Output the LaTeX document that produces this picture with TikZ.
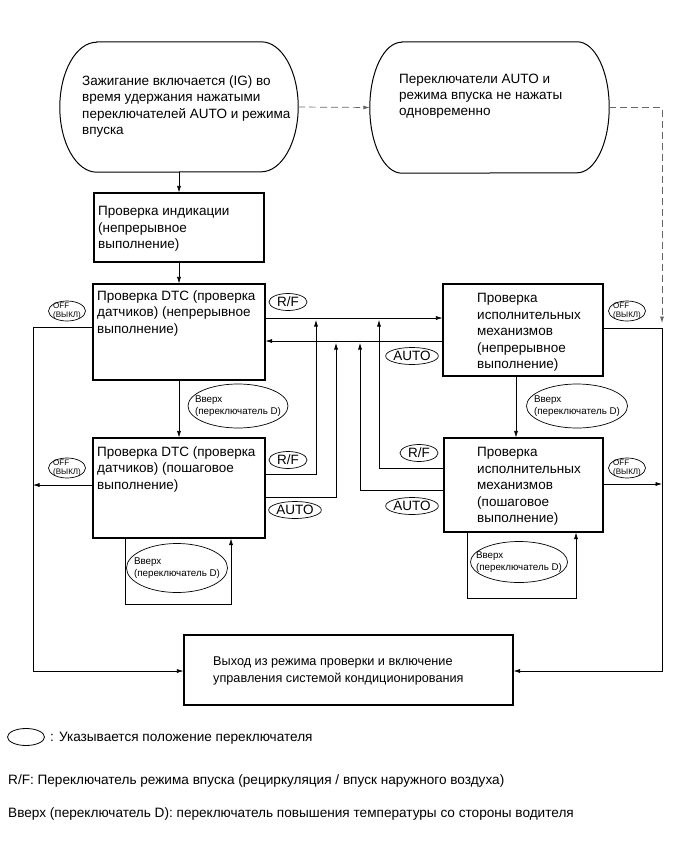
\documentclass[tikz,border=0pt]{standalone}
\usepackage{fontspec}
\setmainfont{Liberation Sans}
\usetikzlibrary{shapes.geometric,arrows.meta}
\newcommand\fsz[2]{\fontsize{#1}{#2}\selectfont}
\begin{document}
\begin{tikzpicture}[x=1pt,y=-1pt,
  boxn/.style={draw, line width=1.1pt, inner sep=0pt},
  txt/.style={inner sep=0pt, anchor=north west, align=left, font=\fsz{13.5}{16.4}},
  conn/.style={line width=0.6pt},
  arr/.style={conn, -{Latex[length=6.5pt,width=4pt]}},
  dsh/.style={line width=0.7pt, draw=black!60, dash pattern=on 7pt off 4pt, -{Latex[length=6.5pt,width=4pt]}},
  term/.style={line width=1pt},
  sw/.style={ellipse, draw, line width=0.7pt, inner sep=0pt, minimum height=17pt, font=\fsz{13.5}{15}},
  off/.style={ellipse, draw, line width=0.7pt, inner sep=0pt, minimum width=37pt, minimum height=20pt},
  offt/.style={inner sep=0pt, align=left, font=\fsz{8}{9}},
  up/.style={ellipse, draw, line width=0.7pt, inner sep=0pt},
  upt/.style={inner sep=0pt, align=left, font=\fsz{9.8}{12.5}},
  leg/.style={inner sep=0pt, anchor=base west, font=\fsz{13.6}{15}}
]
\useasboundingbox (0,0) rectangle (692,856);

% terminators
\node[minimum width=238pt, minimum height=130pt, inner sep=0pt] (t1) at (179,107) {};
\draw[term] ([xshift=37pt]t1.north west) -- ([xshift=-37pt]t1.north east)
  arc[start angle=90, end angle=-90, x radius=37pt, y radius=65pt]
  -- ([xshift=37pt]t1.south west)
  arc[start angle=270, end angle=90, x radius=37pt, y radius=65pt] -- cycle;
\node[txt] (t1t) at (82,75.4) {Зажигание включается (IG) во\\время удержания нажатыми\\переключателей AUTO и режима\\впуска};

\node[minimum width=239pt, minimum height=131pt, inner sep=0pt] (t2) at (489.5,107.5) {};
\draw[term] ([xshift=32pt]t2.north west) -- ([xshift=-32pt]t2.north east)
  arc[start angle=90, end angle=-90, x radius=32pt, y radius=65.5pt]
  -- ([xshift=32pt]t2.south west)
  arc[start angle=270, end angle=90, x radius=32pt, y radius=65.5pt] -- cycle;
\node[txt] (t2t) at (399,73.4) {Переключатели AUTO и\\режима впуска не нажаты\\одновременно};

% boxes
\node[boxn, minimum width=170pt, minimum height=69pt] (b1) at (179,227.5) {};
\node[txt] (b1t) at (98,206.4) {Проверка индикации\\(непрерывное\\выполнение)};

\node[boxn, minimum width=172pt, minimum height=96pt] (dtc1) at (179,332) {};
\node[txt] (dtc1t) at (97,290.4) {Проверка DTC (проверка\\датчиков) (непрерывное\\выполнение)};

\node[boxn, minimum width=172pt, minimum height=100pt] (dtc2) at (179,488) {};
\node[txt] (dtc2t) at (97,446.4) {Проверка DTC (проверка\\датчиков) (пошаговое\\выполнение)};

\node[boxn, minimum width=160pt, minimum height=92pt] (act1) at (523,330) {};
\node[txt] (act1t) at (477,293.4) {Проверка\\исполнительных\\механизмов\\(непрерывное\\выполнение)};

\node[boxn, minimum width=159pt, minimum height=94pt] (act2) at (523.5,485) {};
\node[txt] (act2t) at (477,447.4) {Проверка\\исполнительных\\механизмов\\(пошаговое\\выполнение)};

\node[boxn, minimum width=329pt, minimum height=70pt] (ex) at (348.5,670) {};
\node[txt, font=\fsz{12.7}{16.5}] (ext) at (213,657) {Выход из режима проверки и включение\\управления системой кондиционирования};

% coordinates
\coordinate (lt) at (33,327);
\coordinate (lb) at (33,671);
\coordinate (rt) at (662,328);
\coordinate (rb) at (662,671);
\coordinate (dtop) at (662,323);
\coordinate (j1) at (316,320);
\coordinate (j2) at (336,343);
\coordinate (j3) at (379,320);
\coordinate (j4) at (360,343);
\coordinate (l1a) at (125,604);
\coordinate (l1b) at (231,604);
\coordinate (l2a) at (467,598);
\coordinate (l2b) at (576,598);

% main flow
\draw[arr] (t1.south) -- (t1.south |- b1.north);
\draw[arr] (b1.south) -- (b1.south |- dtc1.north);
\draw[arr] (dtc1.south) -- (dtc1.south |- dtc2.north);
\draw[arr] (act1.south -| 516,0) -- (act2.north -| 516,0);

% dashed
\draw[dsh] (t1.east) -- (t2.west);
\draw[dsh] (t2.east) -| (dtop);

% cross links
\draw[arr] (dtc1.east |- 0,318) -- (act1.west |- 0,318);
\draw[arr] (act1.west |- 0,341) -- (dtc1.east |- 0,341);
\draw[arr] (dtc2.east |- 0,474) -| (j1);
\draw[arr] (dtc2.east |- 0,497) -| (j2);
\draw[arr] (act2.west |- 0,468) -| (j3);
\draw[arr] (act2.west |- 0,490) -| (j4);

% OFF lines
\draw[arr] (dtc1.west |- lt) -- (lt) -- (lb) -- (ex.west |- lb);
\draw[arr] (dtc2.west |- 0,485) -- (lt |- 0,485);
\draw[arr] (act1.east |- rt) -- (rt) -- (rb) -- (ex.east |- rb);
\draw[arr] (act2.east |- 0,484) -- (rt |- 0,484);

% loops
\draw[arr] (dtc2.south -| l1a) -- (l1a) -- (l1b) -- (dtc2.south -| l1b);
\draw[arr] (act2.south -| l2a) -- (l2a) -- (l2b) -- (act2.south -| l2b);

% switch labels
\node[sw, minimum width=38pt] (rf1) at (288,302) {R/F};
\node[sw, minimum width=38pt] (rf2) at (288,460) {R/F};
\node[sw, minimum width=52pt] (au2) at (295,510) {AUTO};
\node[sw, minimum width=52pt] (au1) at (412,356) {AUTO};
\node[sw, minimum width=38pt] (rf3) at (419,453) {R/F};
\node[sw, minimum width=52pt] (au3) at (412,506) {AUTO};

\node[off, label={[offt]center:OFF\\(ВЫКЛ)}] (off1) at (67,311) {};
\node[off, label={[offt]center:OFF\\(ВЫКЛ)}] (off2) at (67,468) {};
\node[off, label={[offt]center:OFF\\(ВЫКЛ)}] (off3) at (627,311) {};
\node[off, label={[offt]center:OFF\\(ВЫКЛ)}] (off4) at (627,468) {};

\node[up, minimum width=100pt, minimum height=44pt, label={[upt]center:Вверх\\(переключатель D)}] (v1) at (238,406) {};
\node[up, minimum width=101pt, minimum height=44pt, label={[upt]center:Вверх\\(переключатель D)}] (v2) at (577,406) {};
\node[up, minimum width=101pt, minimum height=49pt, label={[upt]center:Вверх\\(переключатель D)}] (v3) at (177,568) {};
\node[up, minimum width=97pt, minimum height=41pt, label={[upt]center:Вверх\\(переключатель D)}] (v4) at (519,562) {};

% legend
\node[ellipse, draw, line width=0.8pt, inner sep=0pt, minimum width=37pt, minimum height=17pt] (lg) at (26,737) {};
\node[leg] (lgt) at (50,741) {: Указывается положение переключателя};
\node[leg] (lg2) at (8,784) {R/F: Переключатель режима впуска (рециркуляция / впуск наружного воздуха)};
\node[leg] (lg3) at (8,817) {Вверх (переключатель D): переключатель повышения температуры со стороны водителя};
\end{tikzpicture}
\end{document}
